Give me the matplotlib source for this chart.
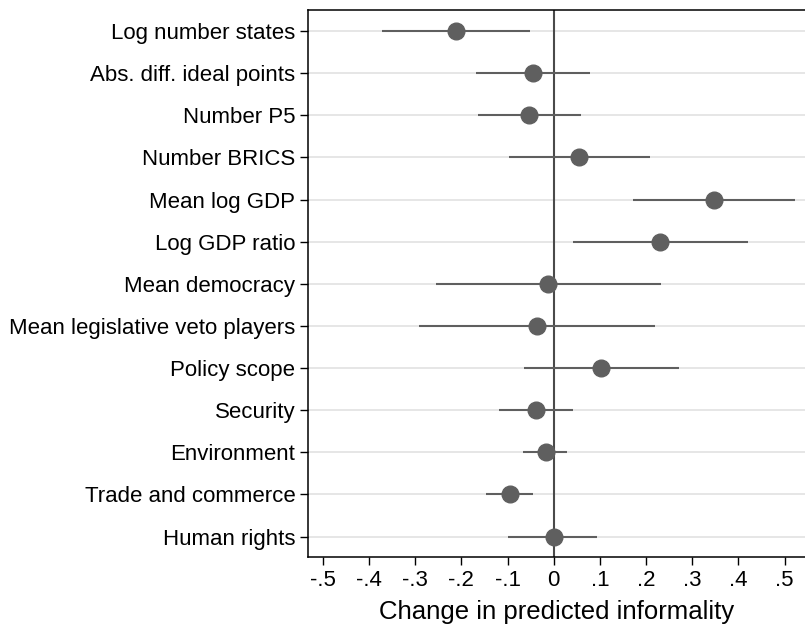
import matplotlib
matplotlib.use("Agg")
import matplotlib.pyplot as plt

plt.rcParams["font.family"] = ["Liberation Sans", "DejaVu Sans"]

# Marginal effects on predicted informality, with confidence bounds
labels = [
    "Log number states",
    "Abs. diff. ideal points",
    "Number P5",
    "Number BRICS",
    "Mean log GDP",
    "Log GDP ratio",
    "Mean democracy",
    "Mean legislative veto players",
    "Policy scope",
    "Security",
    "Environment",
    "Trade and commerce",
    "Human rights",
]
estimate = [-0.211, -0.044, -0.053, 0.055, 0.346, 0.231, -0.013,
            -0.037, 0.103, -0.038, -0.017, -0.095, 0.000]
ci_low = [-0.371, -0.168, -0.163, -0.097, 0.172, 0.042, -0.255,
          -0.292, -0.064, -0.118, -0.066, -0.147, -0.100]
ci_high = [-0.051, 0.079, 0.058, 0.208, 0.522, 0.421, 0.232,
           0.219, 0.271, 0.041, 0.029, -0.044, 0.094]
xticks = [-0.5, -0.4, -0.3, -0.2, -0.1, 0, 0.1, 0.2, 0.3, 0.4, 0.5]
xtick_labels = ["-.5", "-.4", "-.3", "-.2", "-.1", "0", ".1", ".2", ".3", ".4", ".5"]

MARK = "#5f5f5f"

fig = plt.figure(figsize=(8.05, 6.26), dpi=100)
ax = fig.add_axes([0.3826, 0.110, 0.6174, 0.874])

ypos = list(range(1, len(labels) + 1))

for y in ypos:
    ax.axhline(y, color="#e6e6e6", lw=1.4, zorder=0)

ax.axvline(0, color="#4a4a4a", lw=1.5, zorder=1)

for y, lo, hi in zip(ypos, ci_low, ci_high):
    ax.plot([lo, hi], [y, y], color=MARK, lw=1.5, solid_capstyle="butt", zorder=2)
ax.plot(estimate, ypos, "o", color=MARK, markersize=12, zorder=3)

ax.set_xlim(-0.532, 0.544)
ax.set_ylim(13.49, 0.5)
ax.set_yticks(ypos)
ax.set_yticklabels(labels)
ax.set_xticks(xticks)
ax.set_xticklabels(xtick_labels)
ax.tick_params(axis="both", labelsize=16, length=6, width=1, direction="out", pad=3)
ax.set_xlabel("Change in predicted informality", fontsize=18.5, labelpad=7)

for side in ("left", "bottom", "top"):
    ax.spines[side].set_linewidth(1.1)
ax.spines["right"].set_visible(False)

fig.savefig("out.png", dpi=100)
